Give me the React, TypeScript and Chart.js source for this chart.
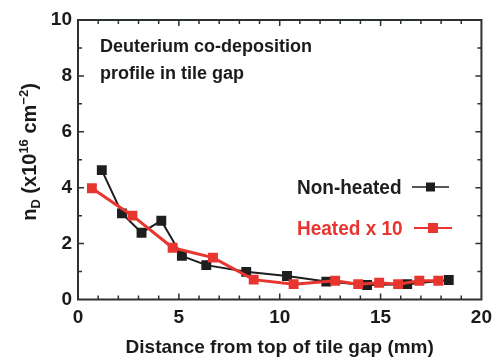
import React, { useEffect, useRef } from "react";
import { Chart, registerables } from "chart.js";

Chart.register(...registerables);

// ---- data ----
const nonHeatedX = [1.18, 2.18, 3.15, 4.13, 5.15, 6.36, 8.34, 10.36, 12.31, 14.33, 16.32, 18.38];
const nonHeatedY = [4.63, 3.08, 2.39, 2.82, 1.56, 1.23, 0.99, 0.84, 0.64, 0.52, 0.55, 0.7];
const heatedX = [0.69, 2.7, 4.69, 6.69, 8.71, 10.69, 12.75, 13.89, 14.93, 15.87, 16.92, 17.86];
const heatedY = [3.98, 3.0, 1.85, 1.5, 0.71, 0.55, 0.67, 0.55, 0.6, 0.55, 0.67, 0.67];
const xTickValues = [0, 5, 10, 15, 20];
const yTickValues = [0, 2, 4, 6, 8, 10];
const xAxisTitle = "Distance from top of tile gap (mm)";
const annotationLines = ["Deuterium co-deposition", "profile in tile gap"];
const legendLabels = ["Non-heated", "Heated x 10"];

const BLACK = "#1e1e1e";
const RED = "#e8352f";
const FRAME = "#2c3131";
const FONT = "'Liberation Sans', Arial, sans-serif";

const framePlugin = {
  id: "frameTicks",
  afterDatasetsDraw(chart: any) {
    const { ctx, chartArea: a, scales } = chart;
    const x = scales.x;
    const y = scales.y;
    ctx.save();
    ctx.strokeStyle = FRAME;
    ctx.lineWidth = 1.5;
    for (let v = 1; v < 20; v++) {
      const px = x.getPixelForValue(v);
      const len = v % 5 === 0 ? 6 : 4;
      ctx.beginPath();
      ctx.moveTo(px, a.bottom);
      ctx.lineTo(px, a.bottom - len);
      ctx.moveTo(px, a.top);
      ctx.lineTo(px, a.top + len);
      ctx.stroke();
    }
    for (let v = 1; v < 10; v++) {
      const py = y.getPixelForValue(v);
      const len = v % 2 === 0 ? 6 : 4;
      ctx.beginPath();
      ctx.moveTo(a.left, py);
      ctx.lineTo(a.left + len, py);
      ctx.moveTo(a.right, py);
      ctx.lineTo(a.right - len, py);
      ctx.stroke();
    }
    ctx.lineWidth = 2;
    ctx.strokeRect(a.left, a.top, a.right - a.left, a.bottom - a.top);
    ctx.restore();
  },
};

const textPlugin = {
  id: "texts",
  afterDraw(chart: any) {
    const { ctx } = chart;
    ctx.save();
    // annotation
    ctx.fillStyle = "#1a1a1a";
    ctx.font = `bold 18px ${FONT}`;
    ctx.textAlign = "left";
    ctx.textBaseline = "alphabetic";
    ctx.fillText(annotationLines[0], 100, 51.5);
    ctx.fillText(annotationLines[1], 100, 78.5);

    // legend
    const drawLegend = (label: string, color: string, tx: number, cy: number, l0: number, l1: number, sq: number, lw: number) => {
      ctx.save();
      ctx.fillStyle = color;
      ctx.font = `bold 20px ${FONT}`;
      ctx.translate(tx, cy + 7.3);
      ctx.scale(0.95, 1);
      ctx.fillText(label, 0, 0);
      ctx.restore();
      ctx.strokeStyle = color;
      ctx.lineWidth = lw;
      ctx.beginPath();
      ctx.moveTo(l0, cy);
      ctx.lineTo(l1, cy);
      ctx.stroke();
      ctx.fillStyle = color;
      const cx = (l0 + l1) / 2;
      ctx.fillRect(cx - sq / 2, cy - sq / 2, sq, sq);
    };
    drawLegend(legendLabels[0], BLACK, 297, 187, 412, 449, 9, 1.5);
    drawLegend(legendLabels[1], RED, 297, 228, 414, 452, 10, 2);

    // y axis title with subscript / superscript
    const segs = [
      { t: "n", s: 20, dy: 0 },
      { t: "D", s: 13, dy: 4 },
      { t: " (x10", s: 20, dy: 0 },
      { t: "16", s: 13, dy: -8 },
      { t: " cm", s: 20, dy: 0 },
      { t: "\u22122", s: 13, dy: -8 },
      { t: ")", s: 20, dy: 0 },
    ];
    ctx.fillStyle = "#1a1a1a";
    let total = 0;
    const widths = segs.map((g) => {
      ctx.font = `bold ${g.s}px ${FONT}`;
      const w = ctx.measureText(g.t).width;
      total += w;
      return w;
    });
    ctx.translate(36, 152);
    ctx.rotate(-Math.PI / 2);
    let px = -total / 2;
    segs.forEach((g, i) => {
      ctx.font = `bold ${g.s}px ${FONT}`;
      ctx.fillText(g.t, px, g.dy);
      px += widths[i];
    });
    ctx.restore();
  },
};

export default function App() {
  const ref = useRef<HTMLCanvasElement>(null);
  useEffect(() => {
    const canvas = ref.current!;
    const chart = new Chart(canvas, {
      type: "line",
      data: {
        datasets: [
          {
            label: legendLabels[1],
            data: heatedX.map((x, i) => ({ x, y: heatedY[i] })),
            borderColor: RED,
            backgroundColor: RED,
            borderWidth: 3,
            pointStyle: "rect",
            pointRadius: 7,
            pointBorderWidth: 0,
            tension: 0,
          },
          {
            label: legendLabels[0],
            data: nonHeatedX.map((x, i) => ({ x, y: nonHeatedY[i] })),
            borderColor: BLACK,
            backgroundColor: BLACK,
            borderWidth: 2,
            pointStyle: "rect",
            pointRadius: 7,
            pointBorderWidth: 0,
            tension: 0,
          },
        ],
      },
      options: {
        responsive: false,
        animation: false,
        devicePixelRatio: 1,
        layout: { padding: { top: 20, right: 9, left: 0, bottom: 0 } },
        plugins: { legend: { display: false }, tooltip: { enabled: false } },
        scales: {
          x: {
            type: "linear",
            min: 0,
            max: 20,
            grid: { display: false, drawTicks: false },
            border: { display: false },
            afterBuildTicks: (s: any) => {
              s.ticks = xTickValues.map((v) => ({ value: v }));
            },
            afterFit: (s: any) => {
              s.height = 57.5;
            },
            ticks: {
              color: "#1a1a1a",
              font: { family: FONT, size: 19, weight: "bold" },
              padding: 7,
              maxRotation: 0,
            },
            title: {
              display: true,
              text: xAxisTitle,
              color: "#1a1a1a",
              font: { family: FONT, size: 19, weight: "bold", lineHeight: 1 },
              padding: { top: 0, bottom: 0 },
            },
          },
          y: {
            type: "linear",
            min: 0,
            max: 10,
            grid: { display: false, drawTicks: false },
            border: { display: false },
            afterBuildTicks: (s: any) => {
              s.ticks = yTickValues.map((v) => ({ value: v }));
            },
            afterFit: (s: any) => {
              s.width = 78;
            },
            ticks: {
              color: "#1a1a1a",
              font: { family: FONT, size: 19, weight: "bold" },
              padding: 6,
            },
          },
        },
      },
      plugins: [framePlugin, textPlugin],
    } as any);
    return () => chart.destroy();
  }, []);
  return (
    <div style={{ position: "absolute", left: 0, top: 0, width: 499, height: 357, background: "#fff" }}>
      <canvas ref={ref} width={499} height={357} style={{ display: "block", width: 499, height: 357 }} />
    </div>
  );
}
